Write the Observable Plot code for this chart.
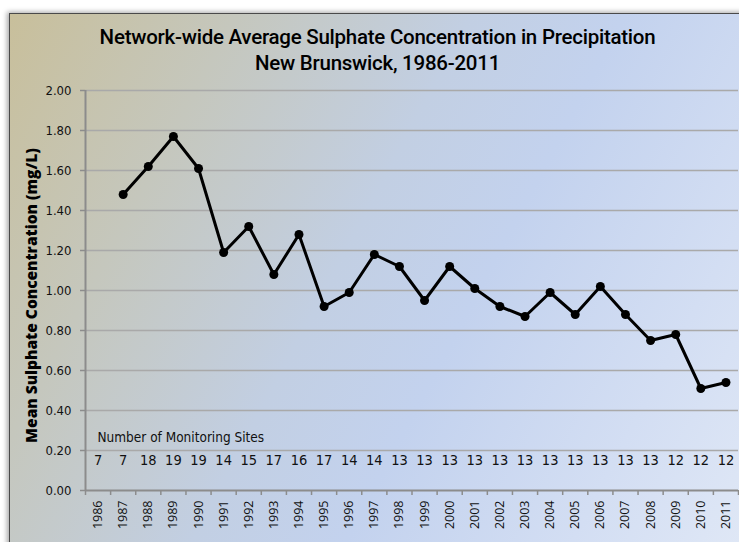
<!DOCTYPE html>
<html><head><meta charset="utf-8">
<script src="https://cdn.jsdelivr.net/npm/d3@7"></script>
<script src="https://cdn.jsdelivr.net/npm/@observablehq/plot@0.6"></script>
<style>
body{margin:0;background:#fff;width:739px;height:542px;overflow:hidden;position:relative;}
#frame{position:absolute;left:9px;top:13px;width:740px;height:540px;border:1px solid #4a4a4a;box-shadow:-2px -1px 5px rgba(0,0,0,.35);
background:linear-gradient(118deg,#c8bf9b 0%,#c5c7bd 22%,#c2cfe3 45%,#c3d2ee 60%,#d3def3 82%,#e0e8f6 100%);}
#title{position:absolute;left:8px;top:24px;width:739px;text-align:center;font-family:Roboto,"DejaVu Sans Condensed",sans-serif;font-weight:500;font-size:20.5px;line-height:26px;color:#000;letter-spacing:-0.25px;}
#chart{position:absolute;left:0;top:75px;}
</style></head><body>
<div id="frame"></div>
<div id="title">Network-wide Average Sulphate Concentration in Precipitation<br>New Brunswick, 1986-2011</div>
<div id="chart"></div>
<script>
const years = [1986,1987,1988,1989,1990,1991,1992,1993,1994,1995,1996,1997,1998,1999,2000,2001,2002,2003,2004,2005,2006,2007,2008,2009,2010,2011];
const sulphate = [null,1.48,1.62,1.77,1.61,1.19,1.32,1.08,1.28,0.92,0.99,1.18,1.12,0.95,1.12,1.01,0.92,0.87,0.99,0.88,1.02,0.88,0.75,0.78,0.51,0.54];
const sites = [7,7,18,19,19,14,15,17,16,17,14,14,13,13,13,13,13,13,13,13,13,13,13,12,12,12];
const yTicks = [0,0.2,0.4,0.6,0.8,1.0,1.2,1.4,1.6,1.8,2.0];
const yLabel = "Mean Sulphate Concentration (mg/L)";
const sitesLabel = "Number of Monitoring Sites";

const data = years.map((y,i)=>({year:y, value:sulphate[i], sites:sites[i]}));
const pts = data.filter(d=>d.value!=null);
const bounds = years.map(y=>y-0.5).concat([years[years.length-1]+0.5]);
const narrow = '"DejaVu Sans Condensed","Liberation Sans Narrow",sans-serif';

const chart = Plot.plot({
  width:739, height:467,
  marginLeft:85, marginRight:1, marginTop:15, marginBottom:52,
  style:{background:"transparent", fontFamily:narrow, fontSize:"12px", color:"#111", overflow:"visible"},
  x:{type:"linear", domain:[bounds[0], bounds[bounds.length-1]]},
  y:{domain:[0,2]},
  marks:[
    Plot.ruleY(yTicks.filter(d=>d>0), {stroke:"#a9a9a9", strokeWidth:1.6}),
    Plot.ruleY([0], {stroke:"#8c8c8c", strokeWidth:2}),
    Plot.ruleX([bounds[0]], {stroke:"#8c8c8c", strokeWidth:2}),
    Plot.axisY({ticks:yTicks, tickFormat:d3.format(".2f"), tickSize:5, tickPadding:9, stroke:"#8c8c8c", strokeWidth:1.5, label:null, fontSize:13, fill:"#111"}),
    Plot.axisX({ticks:bounds, tickSize:5, tickFormat:()=>"", stroke:"#8c8c8c", strokeWidth:1.5, label:null}),
    Plot.axisX({ticks:years, tickSize:0, tickPadding:10, tickRotate:-90, tickFormat:d=>String(d), label:null, fontSize:12.5, fill:"#111", fontFamily:"'Open Sans',sans-serif"}),
    Plot.line(pts, {x:"year", y:"value", stroke:"#000", strokeWidth:3}),
    Plot.dot(pts, {x:"year", y:"value", r:4.5, fill:"#000"}),
    Plot.text(data, {x:"year", text:d=>String(d.sites), frameAnchor:"bottom", dy:-26, fontSize:14.5, fill:"#111"}),
    Plot.text([sitesLabel], {text:d=>d, frameAnchor:"bottom-left", dx:12, dy:-49, textAnchor:"start", fontSize:13.5, fill:"#111"}),
    Plot.text([yLabel], {text:d=>d, frameAnchor:"left", textAnchor:"middle", dx:-53, dy:5, rotate:-90, fontSize:15.5, fontWeight:800, fill:"#000", fontFamily:"'Open Sans',sans-serif", letterSpacing:"-0.3px"})
  ]
});
document.getElementById("chart").appendChild(chart);
</script>
</body></html>
